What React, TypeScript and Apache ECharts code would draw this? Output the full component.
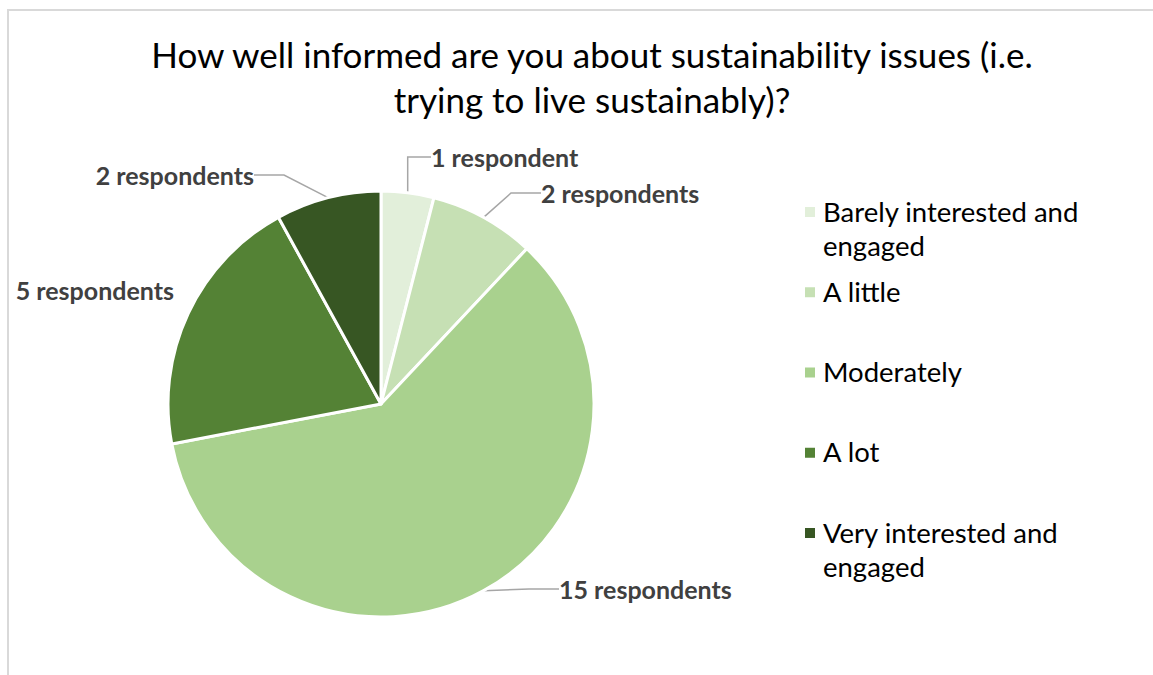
import React, { useEffect, useRef } from "react";
import * as echarts from "echarts";

const chartTitle = "How well informed are you about sustainability issues (i.e.\ntrying to live sustainably)?";
const categories = [
  "Barely interested and engaged",
  "A little",
  "Moderately",
  "A lot",
  "Very interested and engaged",
];
const respondents = [1, 2, 15, 5, 2];
const colors = ["#e2efda", "#c6e0b4", "#a9d18e", "#548235", "#375623"];

// label anchor layout (pixels): [x, y, align]
const labelAnchors: [number, number, string][] = [
  [431, 157, "left"],
  [541, 193, "left"],
  [559, 589, "left"],
  [174, 290, "right"],
  [254, 175, "right"],
];

export default function App() {
  const ref = useRef<HTMLDivElement>(null);
  useEffect(() => {
    document.body.style.margin = "0";
    const chart = echarts.init(ref.current!, null, { renderer: "svg" });
    const font = "Lato, 'Noto Sans', sans-serif";
    const legendX = 805;
    const legendTop = 212;
    const legendStep = 80.25;
    const legendGraphics: any[] = [];
    categories.forEach((name, i) => {
      const cy = legendTop + i * legendStep;
      legendGraphics.push({
        type: "rect",
        shape: { x: legendX, y: cy - 5, width: 10, height: 10 },
        style: { fill: colors[i] },
        silent: true,
      });
      legendGraphics.push({
        type: "text",
        x: legendX + 18,
        y: cy - 18,
        style: {
          text: name,
          width: 300,
          overflow: "break",
          font: `27.5px ${font}`,
          fill: "#000000",
          lineHeight: 34,
          verticalAlign: "top",
          align: "left",
        },
        silent: true,
      });
    });
    chart.setOption({
      animation: false,
      backgroundColor: "#ffffff",
      title: {
        text: chartTitle,
        left: 587,
        top: 26,
        textAlign: "center",
        textStyle: {
          fontFamily: font,
          fontSize: 35,
          fontWeight: "normal",
          color: "#000000",
          lineHeight: 45,
        },
      },
      graphic: [
        {
          type: "rect",
          shape: { x: 8, y: 10, width: 1200, height: 700 },
          style: { fill: "none", stroke: "#d9d9d9", lineWidth: 2 },
          silent: true,
          z: 0,
        },
        ...legendGraphics,
      ],
      series: [
        {
          type: "pie",
          center: [381, 404],
          radius: 213,
          startAngle: 90,
          clockwise: true,
          avoidLabelOverlap: false,
          itemStyle: { borderColor: "#ffffff", borderWidth: 3 },
          label: {
            show: true,
            position: "outside",
            formatter: (p: any) => (p.value === 1 ? "1 respondent" : `${p.value} respondents`),
            fontFamily: font,
            fontSize: 25,
            fontWeight: "bold",
            color: "#404040",
          },
          labelLine: {
            show: true,
            lineStyle: { color: "#a6a6a6", width: 1.5 },
          },
          labelLayout: (params: any) => {
            const a = labelAnchors[params.dataIndex];
            return { x: a[0], y: a[1], align: a[2], verticalAlign: "middle" };
          },
          emphasis: { disabled: true },
          data: categories.map((name, i) => ({
            name,
            value: respondents[i],
            itemStyle: { color: colors[i] },
            labelLine: { show: i !== 3 },
          })),
        },
      ],
    });
    return () => chart.dispose();
  }, []);
  return <div ref={ref} style={{ width: 1153, height: 675 }} />;
}
